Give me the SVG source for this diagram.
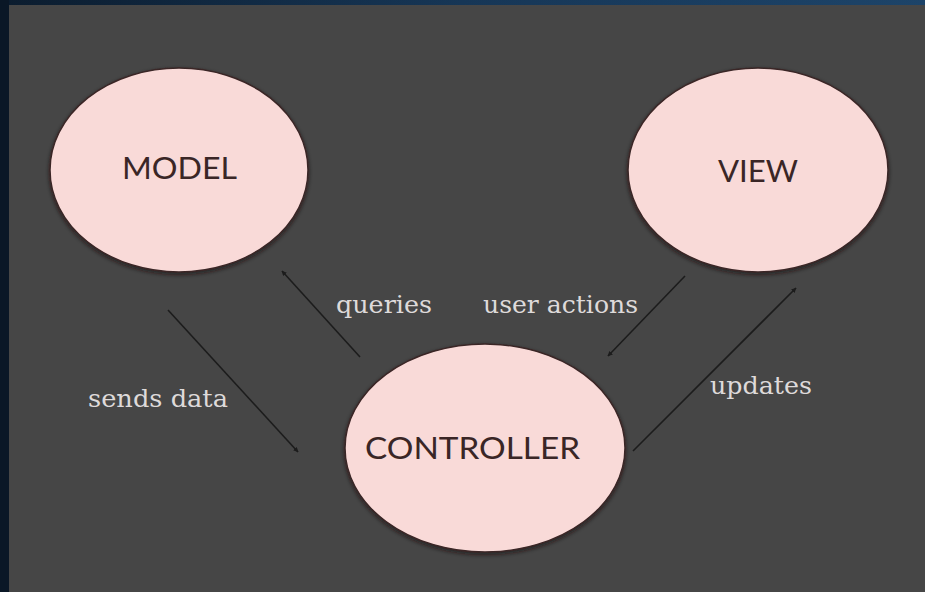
<svg xmlns="http://www.w3.org/2000/svg" width="925" height="592" viewBox="0 0 925 592">
<defs>
<linearGradient id="bg" x1="0" y1="0" x2="1" y2="0">
<stop offset="0" stop-color="#0b1c2e"/>
<stop offset="0.5" stop-color="#163656"/>
<stop offset="1" stop-color="#1d4469"/>
</linearGradient>
<filter id="sh" x="-10%" y="-10%" width="120%" height="125%">
<feGaussianBlur in="SourceAlpha" stdDeviation="2"/>
<feOffset dx="0" dy="2" result="b"/>
<feFlood flood-color="#1a1010" flood-opacity="0.7"/>
<feComposite in2="b" operator="in"/>
<feMerge><feMergeNode/><feMergeNode in="SourceGraphic"/></feMerge>
</filter>
<marker id="ah" viewBox="0 0 10 10" refX="9" refY="5" markerWidth="5" markerHeight="5" orient="auto" markerUnits="userSpaceOnUse">
<path d="M0,0 L10,5 L0,10 z" fill="#1c1c1c"/>
</marker>
<style>
.node ellipse{fill:#f9dad8;stroke:#3a2626;stroke-width:1.5;}
.nt{font-family:Lato,"Open Sans",sans-serif;font-size:30px;fill:#3a2626;text-anchor:middle;}
.lbl{font-family:"DejaVu Serif","Liberation Serif",serif;font-size:24px;fill:#dedada;}
.edge{stroke:#1c1c1c;stroke-width:1.6;fill:none;marker-end:url(#ah);}
</style>
</defs>
<rect x="0" y="0" width="925" height="592" fill="url(#bg)"/>
<rect x="0" y="0" width="9" height="592" fill="#0a1726"/>
<rect x="9" y="5" width="916" height="587" fill="#464646"/>

<g id="model" class="node">
<ellipse cx="179" cy="170" rx="129" ry="102" filter="url(#sh)"/>
<text class="nt" x="179.5" y="179" textLength="115" lengthAdjust="spacingAndGlyphs">MODEL</text>
</g>
<g id="view" class="node">
<ellipse cx="758" cy="170" rx="130" ry="102" filter="url(#sh)"/>
<text class="nt" x="758" y="182" textLength="80" lengthAdjust="spacingAndGlyphs">VIEW</text>
</g>
<g id="controller" class="node">
<ellipse cx="485" cy="448" rx="140" ry="104" filter="url(#sh)"/>
<text class="nt" x="472.5" y="459" textLength="215" lengthAdjust="spacingAndGlyphs">CONTROLLER</text>
</g>

<g id="connectors">
<line class="edge" x1="360" y1="357" x2="282" y2="271"/>
<line class="edge" x1="685" y1="276" x2="608" y2="356"/>
<line class="edge" x1="633" y1="451" x2="796" y2="288"/>
<line class="edge" x1="168" y1="310" x2="298" y2="452"/>
<text class="lbl" x="336" y="313" textLength="96" lengthAdjust="spacingAndGlyphs">queries</text>
<text class="lbl" x="483" y="313" textLength="155" lengthAdjust="spacingAndGlyphs">user actions</text>
<text class="lbl" x="88" y="407" textLength="140" lengthAdjust="spacingAndGlyphs">sends data</text>
<text class="lbl" x="710" y="394" textLength="102" lengthAdjust="spacingAndGlyphs">updates</text>
</g>
</svg>
